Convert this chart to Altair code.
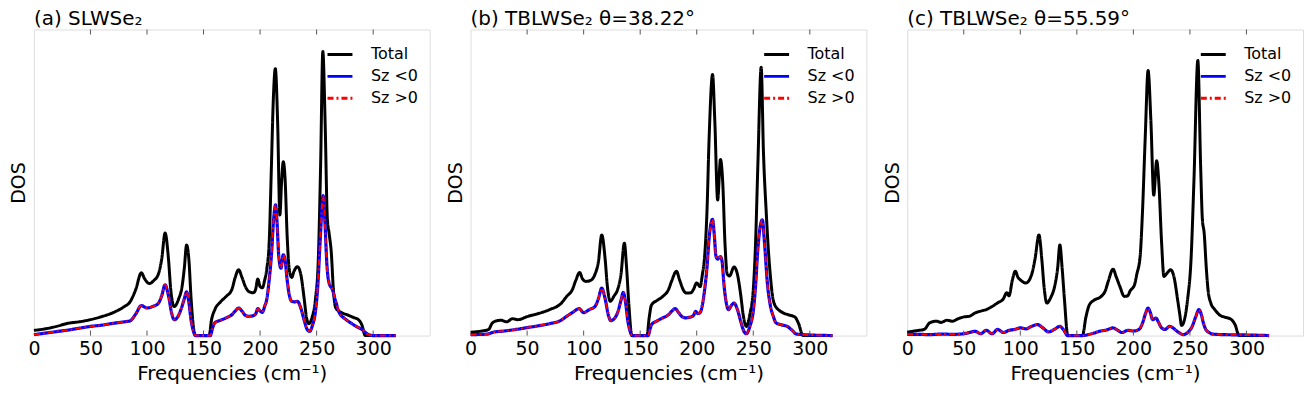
import altair as alt
import pandas as pd

FONT = "DejaVu Sans"
SERIES = ["Total", "Sz <0", "Sz >0"]
COLORS = ["#000000", "#0000ff", "#ff0000"]
DASHES = [[1, 0], [1, 0], [6, 3, 2, 3]]
TICKS = [0, 50, 100, 150, 200, 250, 300]
TITLES = ["(a) SLWSe₂", "(b) TBLWSe₂ θ=38.22°", "(c) TBLWSe₂ θ=55.59°"]

# ---------- panel (a) ----------
a_tot_f = [0, 10, 20, 30, 40, 50, 60, 70, 80, 85, 90, 95, 98, 102, 106, 110, 113, 116, 119, 121, 124, 128, 131, 133, 135, 137, 139, 141, 143,
           155, 157, 160, 165, 170, 175, 178, 181, 184, 187, 190, 194, 196, 198, 200, 202, 204, 206, 208, 210, 211.5, 213.5, 215.5, 217.5,
           219, 220.5, 222, 224, 226, 228, 230, 233, 236, 239, 241, 243, 246, 249, 251.5, 253.5, 255.5, 257.5, 259.5, 261, 263, 265, 267,
           272, 277, 282, 287, 290, 293, 320]
a_tot_v = [0.017, 0.022, 0.03, 0.04, 0.045, 0.052, 0.062, 0.075, 0.095, 0.11, 0.15, 0.205, 0.185, 0.17, 0.18, 0.2, 0.25, 0.335, 0.25, 0.15,
           0.095, 0.12, 0.16, 0.22, 0.296, 0.25, 0.12, 0.03, 0.0,
           0.0, 0.05, 0.085, 0.11, 0.128, 0.15, 0.19, 0.215, 0.19, 0.16, 0.144, 0.14, 0.15, 0.185, 0.16, 0.156, 0.18, 0.22, 0.3, 0.55, 0.75,
           0.872, 0.7, 0.394, 0.5, 0.568, 0.52, 0.32, 0.21, 0.19, 0.21, 0.225, 0.2, 0.12, 0.06, 0.039, 0.06, 0.12, 0.25, 0.55, 0.928, 0.7,
           0.38, 0.335, 0.27, 0.14, 0.09, 0.075, 0.068, 0.06, 0.052, 0.035, 0.0, 0.0]
a_neg_f = [0, 10, 20, 30, 40, 50, 60, 70, 80, 85, 90, 95, 100, 105, 110, 113, 116, 119, 122, 124, 127, 130, 133, 135, 137, 139, 141, 143,
           156, 158, 160, 165, 170, 175, 178, 181, 184, 187, 190, 194, 196, 198, 200, 202, 204, 206, 208, 210, 212, 213.7, 215, 216.5,
           218.5, 220.5, 222, 224, 226, 228, 231, 233, 236, 239, 242, 244, 246, 249, 251, 253, 255.8, 257.5, 259, 261, 264, 267, 270, 275,
           280, 285, 290, 295, 300, 320]
a_neg_v = [0.003, 0.008, 0.013, 0.018, 0.024, 0.03, 0.034, 0.04, 0.045, 0.048, 0.07, 0.098, 0.09, 0.095, 0.105, 0.13, 0.166, 0.13, 0.07,
           0.052, 0.06, 0.085, 0.12, 0.143, 0.11, 0.05, 0.015, 0.0,
           0.0, 0.025, 0.042, 0.05, 0.058, 0.068, 0.08, 0.09, 0.08, 0.066, 0.063, 0.065, 0.07, 0.088, 0.08, 0.076, 0.095, 0.12, 0.18, 0.26,
           0.38, 0.427, 0.37, 0.26, 0.22, 0.264, 0.25, 0.18, 0.13, 0.112, 0.11, 0.112, 0.09, 0.05, 0.018, 0.014, 0.03, 0.08, 0.16, 0.3,
           0.457, 0.36, 0.237, 0.172, 0.15, 0.11, 0.075, 0.055, 0.042, 0.03, 0.02, 0.005, 0.0, 0.0]
a_pos_f = a_neg_f
a_pos_v = a_neg_v

# ---------- panel (b) ----------
b_tot_f = [0, 10, 16, 19, 22, 27, 32, 37, 42, 50, 60, 70, 80, 85, 90, 93, 96.5, 99, 102, 106, 110, 113, 116, 119, 121, 123.5, 127, 130,
           133, 136, 138, 140, 142.6, 156, 158, 160, 165, 170, 175, 178, 182, 185, 188, 191, 195, 197, 200, 203, 205, 207, 209, 211, 214,
           216, 218.5, 221, 223, 225, 227, 229, 233, 236, 239, 241, 244, 247, 250, 252, 254, 257, 259, 261.5, 263, 265, 267, 269, 276,
           281, 287, 290, 294, 320]
b_tot_v = [0.011, 0.015, 0.02, 0.04, 0.047, 0.05, 0.045, 0.055, 0.052, 0.062, 0.072, 0.085, 0.105, 0.128, 0.15, 0.18, 0.206, 0.185,
           0.177, 0.18, 0.2, 0.24, 0.329, 0.25, 0.16, 0.112, 0.13, 0.15, 0.2, 0.302, 0.22, 0.1, 0.0, 0.0, 0.06, 0.1, 0.115, 0.128, 0.15,
           0.18, 0.21, 0.18, 0.15, 0.139, 0.14, 0.15, 0.172, 0.16, 0.2, 0.26, 0.4, 0.65, 0.853, 0.7, 0.443, 0.575, 0.5, 0.3, 0.2, 0.195,
           0.224, 0.2, 0.13, 0.07, 0.03, 0.07, 0.15, 0.3, 0.55, 0.877, 0.6, 0.4, 0.3, 0.2, 0.13, 0.1, 0.075, 0.068, 0.06, 0.04, 0.0, 0.0]
b_neg_f = [0, 15, 20, 30, 40, 50, 60, 70, 80, 85, 90, 96, 100, 105, 110, 113, 116, 119, 122, 124, 127, 130, 133, 135, 137, 139, 141,
           143, 157, 159, 160, 165, 170, 175, 178, 181, 184, 187, 190, 194, 197, 199, 201, 203, 205, 207, 209, 211, 214, 215.5, 217,
           218.5, 221, 222.5, 224, 226, 228, 231, 233, 236, 239, 242, 244, 247, 250, 252, 254, 258, 260, 262.5, 265, 268, 270, 275, 280,
           285, 288, 295, 300, 320]
b_neg_v = [0.003, 0.005, 0.011, 0.015, 0.02, 0.026, 0.032, 0.039, 0.05, 0.063, 0.075, 0.088, 0.075, 0.085, 0.095, 0.12, 0.155, 0.12,
           0.065, 0.049, 0.055, 0.075, 0.115, 0.141, 0.11, 0.05, 0.015, 0.0, 0.0, 0.025, 0.036, 0.048, 0.058, 0.068, 0.08, 0.088, 0.075,
           0.062, 0.058, 0.06, 0.065, 0.079, 0.072, 0.075, 0.1, 0.15, 0.22, 0.32, 0.38, 0.33, 0.26, 0.25, 0.258, 0.24, 0.17, 0.11, 0.085,
           0.1, 0.106, 0.085, 0.045, 0.012, 0.006, 0.03, 0.08, 0.16, 0.28, 0.378, 0.3, 0.17, 0.1, 0.06, 0.042, 0.035, 0.03, 0.015, 0.005,
           0.003, 0.002, 0.0]
b_pos_f = b_neg_f
b_pos_v = b_neg_v

# ---------- panel (c) ----------
c_tot_f = [0, 10, 15, 20, 26, 30, 35, 40, 45, 50, 55, 60, 65, 70, 75, 80, 85, 88, 90, 93, 95.6, 98, 100, 105, 110, 113, 116.5, 119,
           121, 123.5, 127, 130, 133, 135, 137, 139, 142, 155, 158, 161, 165, 171.5, 175, 178, 182, 185, 188, 192, 195, 197, 201, 203,
           206, 208, 210.5, 213, 215.5, 218, 220.6, 222.5, 225, 227, 230, 233, 236, 239, 241, 242.6, 245, 248, 251, 253.5, 257, 259.5,
           261, 262.6, 264.5, 266, 268.5, 272, 276, 281, 286, 290, 293.5, 320]
c_tot_v = [0.011, 0.017, 0.02, 0.042, 0.047, 0.043, 0.05, 0.047, 0.055, 0.061, 0.063, 0.074, 0.08, 0.085, 0.095, 0.107, 0.12, 0.14,
           0.13, 0.182, 0.21, 0.19, 0.182, 0.172, 0.199, 0.25, 0.329, 0.25, 0.16, 0.106, 0.125, 0.155, 0.22, 0.296, 0.22, 0.12, 0.0, 0.0,
           0.06, 0.1, 0.115, 0.128, 0.145, 0.18, 0.217, 0.19, 0.161, 0.128, 0.13, 0.145, 0.166, 0.2, 0.26, 0.4, 0.65, 0.866, 0.7, 0.459,
           0.571, 0.5, 0.3, 0.193, 0.205, 0.215, 0.19, 0.12, 0.07, 0.033, 0.05, 0.12, 0.25, 0.5, 0.899, 0.55, 0.38, 0.335, 0.22, 0.15,
           0.106, 0.085, 0.068, 0.06, 0.054, 0.035, 0.0, 0.0]
c_neg_f = [0, 10, 20, 30, 40, 50, 55, 60, 65, 70, 75, 80, 85, 90, 95, 100, 105, 110, 115, 120, 125, 130, 135, 138, 142, 155, 160, 165,
           170, 176, 182, 186, 190, 195, 200, 205, 208, 211, 213, 215, 217, 220, 222, 225, 228, 232, 235, 238, 241, 244, 248, 252, 255,
           258, 260, 262, 264, 267, 270, 280, 300, 320]
c_neg_v = [0.004, 0.004, 0.003, 0.005, 0.004, 0.006, 0.01, 0.014, 0.006, 0.017, 0.006, 0.02, 0.01, 0.017, 0.02, 0.025, 0.022, 0.03,
           0.036, 0.025, 0.012, 0.02, 0.03, 0.02, 0.0, 0.0, 0.003, 0.008, 0.014, 0.018, 0.025, 0.018, 0.01, 0.017, 0.015, 0.02, 0.04,
           0.075, 0.09, 0.075, 0.052, 0.057, 0.045, 0.025, 0.02, 0.03, 0.025, 0.016, 0.008, 0.003, 0.01, 0.03, 0.06, 0.085, 0.07, 0.04,
           0.02, 0.01, 0.005, 0.003, 0.002, 0.0]
c_pos_f = c_neg_f
c_pos_v = c_neg_v

PANELS = [
    (TITLES[0], a_tot_f, a_tot_v, a_neg_f, a_neg_v, a_pos_f, a_pos_v),
    (TITLES[1], b_tot_f, b_tot_v, b_neg_f, b_neg_v, b_pos_f, b_pos_v),
    (TITLES[2], c_tot_f, c_tot_v, c_neg_f, c_neg_v, c_pos_f, c_pos_v),
]

W, H = 397, 307
XSCALE = alt.Scale(domain=[0, 350], nice=False, zero=False)
YSCALE = alt.Scale(domain=[0, 1], nice=False, zero=False)


def make_legend():
    return alt.Legend(title=None, orient="top-right", offset=11, labelFontSize=16,
                      labelFont=FONT, labelColor="#000", symbolType="stroke",
                      symbolSize=625, symbolStrokeWidth=3, labelOffset=17,
                      rowPadding=-1, padding=0)


def panel(title, tf, tv, nf, nv, pf, pv):
    def frame(fs, vs, name):
        return pd.DataFrame({"f": fs, "dos": vs, "series": [name] * len(fs)})

    x = alt.X("f:Q", scale=XSCALE,
              axis=alt.Axis(values=TICKS, title="Frequencies (cm⁻¹)", ticks=False, domain=False, grid=False,
                            labelFontSize=19, titleFontSize=20, labelPadding=4, titlePadding=5,
                            labelFont=FONT, titleFont=FONT, labelColor="#000", titleColor="#000",
                            titleFontWeight="normal", labelFlush=False))
    y = alt.Y("dos:Q", scale=YSCALE,
              axis=alt.Axis(labels=False, ticks=False, domain=False, grid=False, title="DOS",
                            titleFontSize=19, titleFont=FONT, titleColor="#000", titleFontWeight="normal",
                            titlePadding=5))
    color = alt.Color("series:N", scale=alt.Scale(domain=SERIES, range=COLORS), legend=make_legend())
    dash = alt.StrokeDash("series:N", scale=alt.Scale(domain=SERIES, range=DASHES), legend=make_legend())

    l_tot = alt.Chart(frame(tf, tv, SERIES[0])).mark_line(strokeWidth=3, interpolate="monotone").encode(
        x=x, y=y, color=color, strokeDash=dash)
    l_neg = alt.Chart(frame(nf, nv, SERIES[1])).mark_line(strokeWidth=3.2, interpolate="monotone").encode(
        x=x, y=y, color=color, strokeDash=dash)
    l_pos = alt.Chart(frame(pf, pv, SERIES[2])).mark_line(strokeWidth=2, interpolate="monotone").encode(
        x=x, y=y, color=color, strokeDash=dash)

    tick_df = pd.DataFrame({"f": TICKS[1:]})
    top_ticks = alt.Chart(tick_df).mark_rule(color="#555", strokeWidth=1).encode(
        x=x, y=alt.value(0), y2=alt.value(5))
    bot_ticks = alt.Chart(tick_df).mark_rule(color="#555", strokeWidth=1).encode(
        x=x, y=alt.value(H - 5), y2=alt.value(H))

    return alt.layer(l_tot, l_neg, l_pos, top_ticks, bot_ticks).properties(
        width=W, height=H,
        title=alt.TitleParams(title, anchor="start", frame="group", fontSize=20, font=FONT,
                              fontWeight="normal", color="#000", offset=0))


chart = alt.hconcat(*[panel(*p) for p in PANELS], spacing=15).resolve_scale(
    color="independent", strokeDash="independent"
).properties(
    padding={"left": 1, "top": 0, "right": 0, "bottom": 0}
).configure_view(
    stroke="#555", strokeWidth=1.3
).configure(background="white")

chart.save("out.html", embed_options={"renderer": "svg", "actions": False})
